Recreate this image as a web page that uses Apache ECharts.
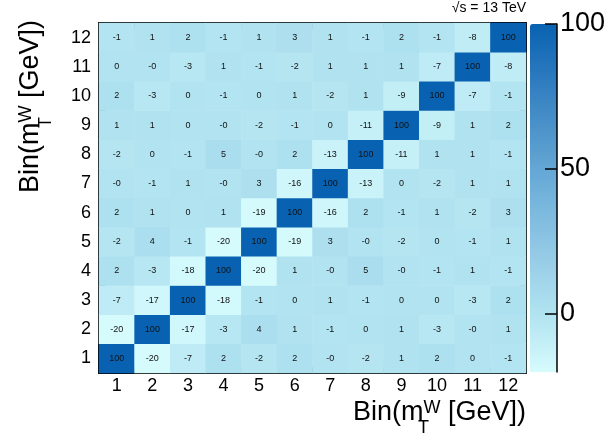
<!DOCTYPE html>
<html>
<head>
<meta charset="utf-8">
<script src="https://cdn.jsdelivr.net/npm/echarts@6/dist/echarts.min.js"></script>
<style>
  html, body { margin: 0; padding: 0; background: #fff; }
  #chart { width: 611px; height: 446px; }
</style>
</head>
<body>
<div id="chart"></div>
<script>
// Bin labels on both axes
const bins = ['1', '2', '3', '4', '5', '6', '7', '8', '9', '10', '11', '12'];

// Correlation matrix in percent, one row per y bin (row1 = bin 1 ... row12 = bin 12), columns = x bins 1..12
const row1  = [100, -20, -7, 2, -2, 2, -0, -2, 1, 2, 0, -1];
const row2  = [-20, 100, -17, -3, 4, 1, -1, 0, 1, -3, -0, 1];
const row3  = [-7, -17, 100, -18, -1, 0, 1, -1, 0, 0, -3, 2];
const row4  = [2, -3, -18, 100, -20, 1, -0, 5, -0, -1, 1, -1];
const row5  = [-2, 4, -1, -20, 100, -19, 3, -0, -2, 0, -1, 1];
const row6  = [2, 1, 0, 1, -19, 100, -16, 2, -1, 1, -2, 3];
const row7  = [-0, -1, 1, -0, 3, -16, 100, -13, 0, -2, 1, 1];
const row8  = [-2, 0, -1, 5, -0, 2, -13, 100, -11, 1, 1, -1];
const row9  = [1, 1, 0, -0, -2, -1, 0, -11, 100, -9, 1, 2];
const row10 = [2, -3, 0, -1, 0, 1, -2, 1, -9, 100, -7, -1];
const row11 = [0, -0, -3, 1, -1, -2, 1, 1, 1, -7, 100, -8];
const row12 = [-1, 1, 2, -1, 1, 3, 1, -1, 2, -1, -8, 100];
const rows = [row1, row2, row3, row4, row5, row6, row7, row8, row9, row10, row11, row12];

// Colour scale range and colorbar tick labels
const zMin = -20;
const zMax = 100;
const zTicks = [0, 50, 100];

const cells = [];
rows.forEach((r, yi) => r.forEach((v, xi) => cells.push([xi, yi, v])));

const fmt = v => (Object.is(v, -0) ? '-0' : String(v));

const FONT = 'Liberation Sans';
// m with stacked sub/superscript: T below the baseline, W raised above it
const titleRich = {
  a: { fontSize: 27, lineHeight: 38, verticalAlign: 'top', color: '#000', fontFamily: FONT },
  t: { fontSize: 18, lineHeight: 8, verticalAlign: 'bottom', align: 'left', width: 0, color: '#000', fontFamily: FONT },
  w: { fontSize: 18, lineHeight: 14, verticalAlign: 'top', align: 'left', color: '#000', fontFamily: FONT }
};
const titleText = '{a|Bin(m}{t|T}{w|W}{a| [GeV])}';

const frameLine = { show: true, lineStyle: { color: '#000', width: 2 } };
const frameTick = { show: true, inside: true, length: 6, lineStyle: { color: '#000', width: 1.5 } };
const tickLabel = { color: '#000', fontSize: 18, fontFamily: FONT };

const chart = echarts.init(document.getElementById('chart'), null, { renderer: 'canvas' });
chart.setOption({
  animation: false,
  backgroundColor: '#fff',
  title: {
    text: '√s = 13 TeV',
    right: 85,
    top: 1,
    padding: 0,
    textStyle: { fontSize: 14, fontWeight: 'normal', color: '#000', fontFamily: FONT }
  },
  grid: [
    { left: 99, top: 23, width: 427, height: 350, outerBoundsMode: 'none' },
    { left: 530, top: 24, width: 27, height: 348, outerBoundsMode: 'none' }
  ],
  xAxis: [
    {
      type: 'category', data: bins, gridIndex: 0, position: 'bottom',
      axisLine: frameLine, axisTick: frameTick,
      axisLabel: Object.assign({ margin: 4 }, tickLabel),
      splitLine: { show: false },
      name: titleText, nameLocation: 'end', nameGap: 0,
      nameTextStyle: { align: 'right', verticalAlign: 'top', padding: [26, 0, 0, 0], rich: titleRich }
    },
    {
      type: 'category', data: bins, gridIndex: 0, position: 'top',
      axisLine: frameLine, axisTick: frameTick, axisLabel: { show: false }, splitLine: { show: false }
    },
    { type: 'value', gridIndex: 1, show: false, min: 0, max: 1 }
  ],
  yAxis: [
    {
      type: 'category', data: bins, gridIndex: 0, position: 'left',
      axisLine: frameLine, axisTick: frameTick,
      axisLabel: Object.assign({ margin: 8 }, tickLabel),
      splitLine: { show: false },
      name: titleText, nameLocation: 'end', nameGap: 3, nameRotate: 90,
      nameTextStyle: { align: 'right', verticalAlign: 'bottom', padding: [0, 0, 44, 0], rich: titleRich }
    },
    {
      type: 'category', data: bins, gridIndex: 0, position: 'right',
      axisLine: frameLine, axisTick: frameTick, axisLabel: { show: false }, splitLine: { show: false }
    },
    {
      // colorbar scale, drawn on its own layer above the gradient
      type: 'value', gridIndex: 1, position: 'right', min: zMin, max: zMax, zlevel: 1,
      axisLine: { show: true, onZero: false, lineStyle: { color: '#000', width: 1.5 } },
      axisTick: { show: true, inside: true, length: 12, customValues: zTicks, lineStyle: { color: '#000', width: 1.5 } },
      axisLabel: { customValues: zTicks, margin: 3, color: '#000', fontSize: 27, fontFamily: FONT },
      splitLine: { show: false }
    }
  ],
  visualMap: {
    type: 'continuous',
    min: zMin,
    max: zMax,
    calculable: false,
    realtime: false,
    seriesIndex: 0,
    left: 530,
    top: 24,
    padding: 0,
    z: 1,
    itemWidth: 27,
    itemHeight: 348,
    text: null,
    showLabel: false,
    inRange: { color: ['#d6fbfd', '#b1e3f0', '#95cbe6', '#74b4dc', '#5499cd', '#2f7cbf', '#0862b1'] }
  },
  series: [{
    type: 'heatmap',
    xAxisIndex: 0,
    yAxisIndex: 0,
    data: cells,
    itemStyle: { borderWidth: 0 },
    label: {
      show: true,
      fontSize: 9,
      color: '#111',
      fontFamily: FONT,
      formatter: p => fmt(p.data[2])
    },
    emphasis: { disabled: true }
  }]
});
</script>
</body>
</html>
